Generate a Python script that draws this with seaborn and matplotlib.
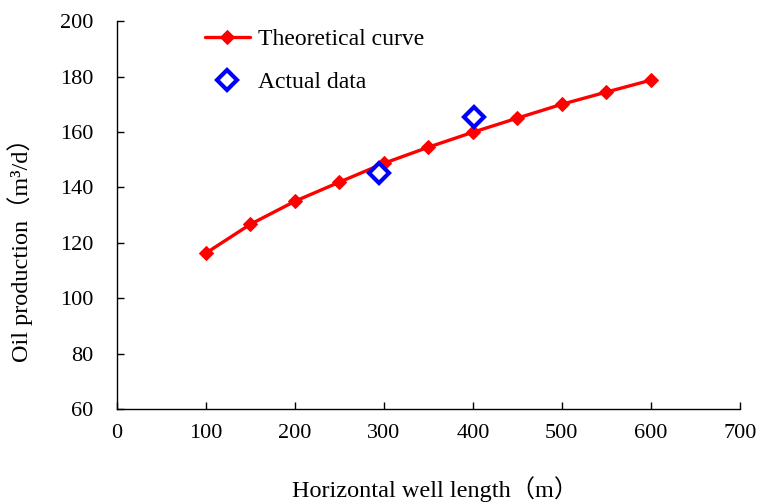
import matplotlib
matplotlib.use("Agg")
import matplotlib.pyplot as plt
import seaborn as sns
import pandas as pd

theory_x = [100, 150, 200, 250, 300, 350, 400, 450, 500, 550, 600]
theory_y = [116.3, 126.7, 135.0, 141.9, 148.7, 154.5, 159.9, 165.0, 170.0, 174.4, 178.7]
actual_x = [295, 401]
actual_y = [145.1, 165.3]
x_ticks = [0, 100, 200, 300, 400, 500, 600, 700]
y_ticks = [60, 80, 100, 120, 140, 160, 180, 200]

sns.set_theme(style="ticks")
plt.rcParams['font.family'] = ['Liberation Serif', 'Noto Sans CJK SC']
plt.rcParams['text.color'] = 'black'
plt.rcParams['axes.labelcolor'] = 'black'

fig = plt.figure(figsize=(7.65, 5.04), dpi=100)
ax = fig.add_axes([0.153, 0.1885, 0.814, 0.7695])

df_t = pd.DataFrame({"x": theory_x, "y": theory_y})
df_a = pd.DataFrame({"x": actual_x, "y": actual_y})

sns.lineplot(data=df_t, x="x", y="y", ax=ax, color="#ff0000", linewidth=2.4,
             marker="D", markersize=7.5, markeredgecolor="#ff0000",
             label="Theoretical curve")
ax.plot(df_a["x"], df_a["y"], linestyle="none", marker="D", markersize=10.5,
        markerfacecolor="white", markeredgecolor="#0000ff", markeredgewidth=3,
        label="Actual data")

ax.set_xlim(0, 700)
ax.set_ylim(60, 200)
ax.set_xticks(x_ticks)
ax.set_yticks(y_ticks)
ax.tick_params(direction="in", length=5, width=1, labelsize=16, colors="black")
ax.tick_params(axis="y", pad=17)
ax.tick_params(axis="x", pad=11)
for s in ["top", "right"]:
    ax.spines[s].set_visible(False)
for s in ["left", "bottom"]:
    ax.spines[s].set_color("black")
    ax.spines[s].set_linewidth(1)

ax.set_xlabel("Horizontal well length（m）", fontsize=17.5, labelpad=24)
ax.xaxis.label.set_x(0.511)
ax.set_ylabel("Oil production（m³/d）", fontsize=17.5)
ax.yaxis.set_label_coords(-0.135, 0.425)

leg = ax.legend(loc="upper left", bbox_to_anchor=(0.107, 1.035), frameon=False,
                fontsize=17, handlelength=1.9, labelspacing=0.9, handletextpad=0.35)

fig.savefig("out.png", dpi=100)
